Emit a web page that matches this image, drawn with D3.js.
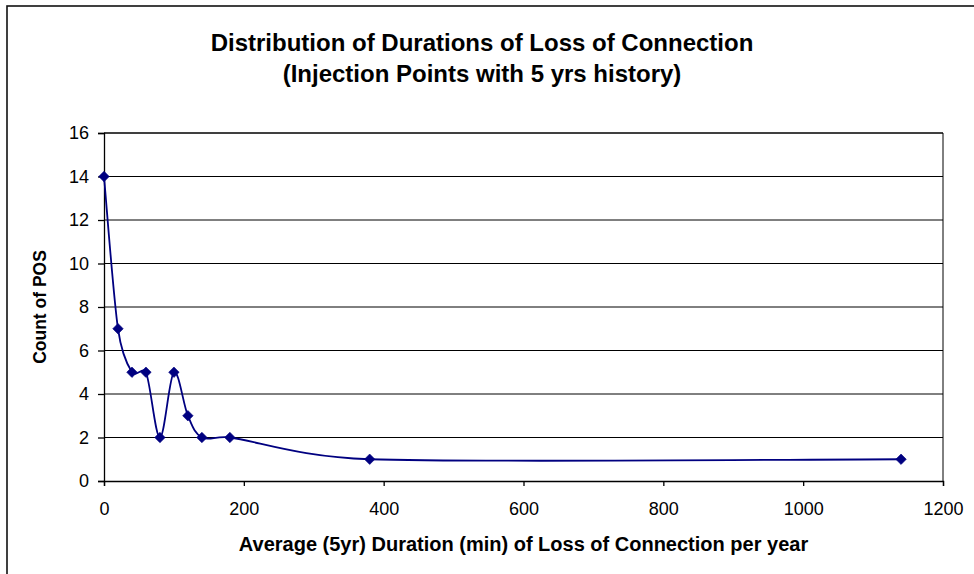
<!DOCTYPE html>
<html>
<head>
<meta charset="utf-8">
<script src="https://cdn.jsdelivr.net/npm/d3@7"></script>
<style>
  html, body { margin: 0; padding: 0; background: #fff; }
  svg { display: block; font-family: Arial, "Liberation Sans", sans-serif; }
</style>
</head>
<body>
<svg id="chart" width="974" height="574"></svg>
<script>
// Average yearly loss-of-connection duration (minutes) and count of POS in each bucket
const durations = [0, 20, 40, 60, 80, 100, 120, 140, 180, 380, 1140];
const counts    = [14, 7, 5, 5, 2, 5, 3, 2, 2, 1, 1];
const xTicks = [0, 200, 400, 600, 800, 1000, 1200];
const yTicks = [0, 2, 4, 6, 8, 10, 12, 14, 16];
const titleLines = ["Distribution of Durations of Loss of Connection", "(Injection Points with 5 yrs history)"];
const xTitle = "Average (5yr) Duration (min) of Loss of Connection per year";
const yTitle = "Count of POS";

const svg = d3.select("#chart");
const plot = { left: 104, right: 943, top: 133, bottom: 481 };

// Outer chart frame
svg.append("rect")
  .attr("x", 7).attr("y", 6).attr("width", 990).attr("height", 600)
  .attr("fill", "none").attr("stroke", "#111").attr("stroke-width", 1.6);

const x = d3.scaleLinear().domain([0, 1200]).range([plot.left, plot.right]);
const y = d3.scaleLinear().domain([0, 16]).range([plot.bottom, plot.top]);

// Horizontal gridlines
svg.append("g").selectAll("line").data(yTicks.filter(v => v > 0)).join("line")
  .attr("x1", plot.left).attr("x2", plot.right)
  .attr("y1", d => y(d)).attr("y2", d => y(d))
  .attr("stroke", "#000").attr("stroke-width", 1);

// Plot area border (top and right)
svg.append("path")
  .attr("d", `M${plot.left},${plot.top}H${plot.right}V${plot.bottom}`)
  .attr("fill", "none").attr("stroke", "#000").attr("stroke-width", 1);

// Axes
const yAxis = d3.axisLeft(y).tickValues(yTicks).tickSize(6).tickPadding(9).tickFormat(d3.format("d"));
const xAxis = d3.axisBottom(x).tickValues(xTicks).tickSize(5).tickPadding(16).tickFormat(d3.format("d"));

const gy = svg.append("g").attr("transform", `translate(${plot.left},0)`).call(yAxis);
const gx = svg.append("g").attr("transform", `translate(0,${plot.bottom})`).call(xAxis);
[gx, gy].forEach(g => {
  g.select(".domain").attr("stroke", "#000").attr("stroke-width", 1.3);
  g.selectAll(".tick line").attr("stroke", "#000").attr("stroke-width", 1.3);
  g.selectAll(".tick text").attr("fill", "#000").attr("font-size", 18)
    .attr("font-family", "Arial, 'Liberation Sans', sans-serif");
});

// Smoothed line: cubic Bezier segments with tangents of (next - prev) / 6,
// each control arm capped at half the segment length.
function smoothPath(p) {
  const n = p.length;
  const arm = (a, b, seg) => {
    let dx = (b[0] - a[0]) / 6, dy = (b[1] - a[1]) / 6;
    const len = Math.hypot(dx, dy), cap = seg / 2;
    if (len > cap && len > 0) { dx *= cap / len; dy *= cap / len; }
    return [dx, dy];
  };
  let d = `M${p[0][0]},${p[0][1]}`;
  for (let i = 0; i < n - 1; i++) {
    const p0 = p[Math.max(i - 1, 0)], p1 = p[i], p2 = p[i + 1], p3 = p[Math.min(i + 2, n - 1)];
    const seg = Math.hypot(p2[0] - p1[0], p2[1] - p1[1]);
    const t1 = arm(p0, p2, seg), t2 = arm(p1, p3, seg);
    d += `C${p1[0] + t1[0]},${p1[1] + t1[1]} ${p2[0] - t2[0]},${p2[1] - t2[1]} ${p2[0]},${p2[1]}`;
  }
  return d;
}

const pts = durations.map((d, i) => [x(d), y(counts[i])]);
svg.append("path")
  .attr("d", smoothPath(pts))
  .attr("fill", "none").attr("stroke", "#000080").attr("stroke-width", 1.8);

// Diamond markers
svg.append("g").selectAll("path").data(pts).join("path")
  .attr("transform", d => `translate(${d[0]},${d[1]})`)
  .attr("d", d3.symbol(d3.symbolDiamond2, 70)())
  .attr("fill", "#000080").attr("stroke", "#000080").attr("stroke-width", 0.6);

// Title
svg.append("text").attr("text-anchor", "middle")
  .attr("font-size", 24).attr("font-weight", "bold").attr("fill", "#000")
  .selectAll("tspan").data(titleLines).join("tspan")
  .attr("x", 482).attr("y", (d, i) => 51 + i * 31).text(d => d);

// Axis titles
svg.append("text").attr("x", (plot.left + plot.right) / 2).attr("y", 551)
  .attr("text-anchor", "middle").attr("font-size", 20).attr("font-weight", "bold")
  .text(xTitle);
svg.append("text").attr("transform", `translate(46,${(plot.top + plot.bottom) / 2}) rotate(-90)`)
  .attr("text-anchor", "middle").attr("font-size", 17.5).attr("font-weight", "bold")
  .text(yTitle);
</script>
</body>
</html>
